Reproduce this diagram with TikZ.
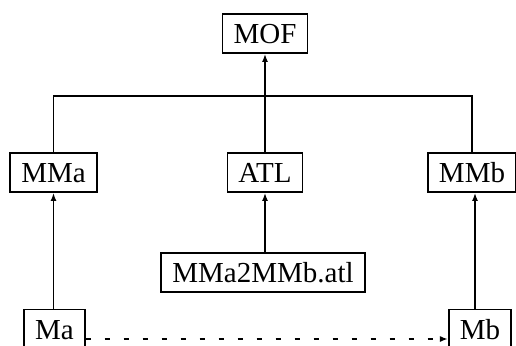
\documentclass[tikz,border=0pt]{standalone}
\usepackage{fontspec}
\setmainfont{Liberation Serif}
\usetikzlibrary{arrows.meta}
\begin{document}
\begin{tikzpicture}[x=1pt,y=-1pt,
  box/.style={draw,line width=1.8pt,inner xsep=11pt,inner ysep=0pt,
    minimum height=39pt,text height=20pt,text depth=0pt,
    font=\fontsize{29}{34}\selectfont},
  link/.style={line width=1.8pt},
  uparrow/.style={link,-{Latex[length=8pt,width=6pt]}},
  transform/.style={line width=2.2pt,dash pattern=on 5pt off 14pt,
    -{Latex[length=8pt,width=6pt]}}]
  \useasboundingbox (0,0) rectangle (516,345);
  \clip (0,0) rectangle (516,345);

  % metamodel hierarchy
  \node[box] (MOF) at (265,33.5) {MOF};
  \node[box] (MMa) at (53.5,172.5) {MMa};
  \node[box] (ATL) at (265,172.5) {ATL};
  \node[box] (MMb) at (472,172.5) {MMb};
  \node[box] (rule) at (263,272.5) {MMa2MMb.atl};
  \node[box] (Ma) at (54.5,329) {Ma};
  \node[box] (Mb) at (480,329) {Mb};

  % conformance links
  \coordinate (bar) at (265,96);
  \draw[uparrow] (ATL.north) -- (MOF.south);
  \draw[link] (MMa.north) |- (bar) -| (MMb.north);
  \draw[uparrow] (rule.north -| ATL.south) -- (ATL.south);
  \draw[uparrow] (Ma.north -| MMa.south) -- (MMa.south);
  \draw[uparrow] ([xshift=3pt]Mb.north -| MMb.south) -- ([xshift=3pt]MMb.south);

  % transformation
  \draw[transform] ([yshift=-10pt]Ma.east) -- ([yshift=-10pt]Ma.east -| Mb.west);
\end{tikzpicture}
\end{document}
